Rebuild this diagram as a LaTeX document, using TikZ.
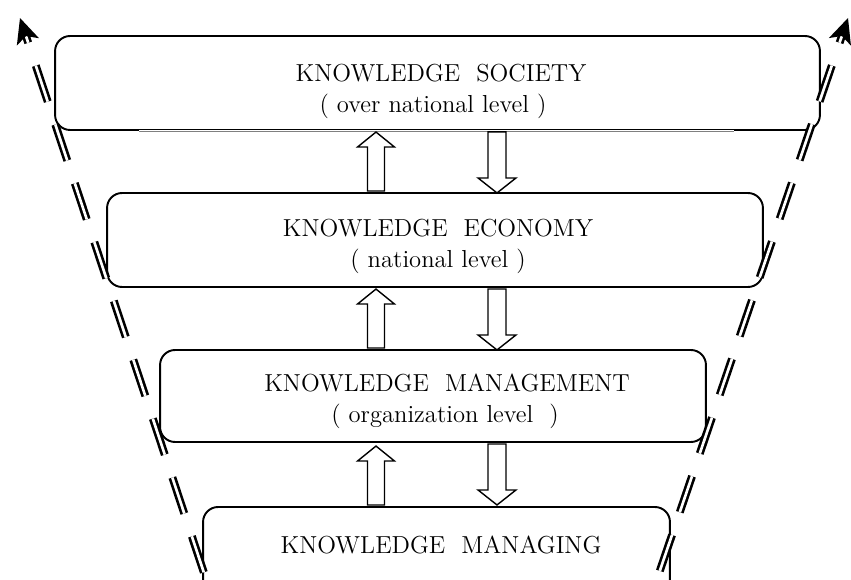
\documentclass[tikz,border=0pt]{standalone}
\usepackage{tikz}
\usetikzlibrary{arrows.meta}
\usetikzlibrary{calc}

\tikzset{
    levelbox/.style={rectangle,rounded corners=0.3cm,draw,line width=1.1pt,inner sep=0pt},
    leveltext/.style={anchor=base,inner sep=0pt,font=\fontsize{14}{17}\selectfont},
    dline/.style={double,double distance=1.5pt,line width=1.5pt,dash pattern=on 0.76cm off 0.48cm,dash phase=0.6cm},
    upblock/.pic={\draw[line width=0.8pt,fill=white] (-8.5,0) -- (-8.5,-44) -- (-18.5,-44) -- (0,-59) -- (18.5,-44) -- (8.5,-44) -- (8.5,0) -- cycle;},
    downblock/.pic={\draw[line width=0.8pt,fill=white] (-9,0) -- (-9,46) -- (-19,46) -- (0,61) -- (19,46) -- (9,46) -- (9,0) -- cycle;}
}

\begin{document}
\begin{tikzpicture}[x=0.02cm,y=-0.02cm]
    \useasboundingbox (0,0) rectangle (851,580);
    \clip (0,0) rectangle (851,580);

    \begin{scope}[every node/.style={levelbox}]
    \node[minimum width=15.3cm,minimum height=1.88cm] (soc) at (437.5,83) {};
    \node[minimum width=13.12cm,minimum height=1.88cm] (eco) at (435,240) {};
    \node[minimum width=10.92cm,minimum height=1.84cm] (man) at (433,396) {};
    \node[minimum width=9.34cm,minimum height=1.9cm] (mng) at (436.5,554.5) {};
    \end{scope}

    % thin middle part of the lower edge
    \draw[white,line width=1.6pt] ($(soc.south west)+(85,0)$) -- ($(soc.south east)+(-87,0)$);
    \draw[gray,line width=0.5pt] ($(soc.south west)+(85,0)$) -- ($(soc.south east)+(-87,0)$);

    \begin{scope}[every node/.style={leveltext}]
    \node (soc1) at (441,82) {KNOWLEDGE\ \ SOCIETY};
    \node (soc2) at (433,113) {( over national level )};
    \node (eco1) at (438,237) {KNOWLEDGE\ \ ECONOMY};
    \node (eco2) at (438,268) {( national level )};
    \node (man1) at (447,392) {KNOWLEDGE\ \ MANAGEMENT};
    \node (man2) at (445,422) {( organization level\ \ )};
    \node (mng1) at (441,553) {KNOWLEDGE\ \ MANAGING};
    \end{scope}

    \coordinate (upx) at (376,0);
    \coordinate (dnx) at (497,0);
    \pic at ($(eco.north -| upx)+(0,-1)$) {upblock};
    \pic at ($(man.north -| upx)+(0,-1)$) {upblock};
    \pic at ($(mng.north -| upx)+(0,-1)$) {upblock};
    \pic at ($(soc.south -| dnx)+(0,1)$) {downblock};
    \pic at ($(eco.south -| dnx)+(0,1)$) {downblock};
    \pic at ($(man.south -| dnx)+(0,1)$) {downblock};

    \coordinate (lb) at (208,585);
    \coordinate (lt) at (20,18);
    \coordinate (rb) at (655,585);
    \coordinate (rt) at (848,18);
    \draw[dline,{Stealth[length=0.5cm,width=0.46cm,inset=0.12cm]}-] (lt) -- (lb);
    \draw[dline,{Stealth[length=0.5cm,width=0.46cm,inset=0.12cm]}-] (rt) -- (rb);
\end{tikzpicture}
\end{document}
